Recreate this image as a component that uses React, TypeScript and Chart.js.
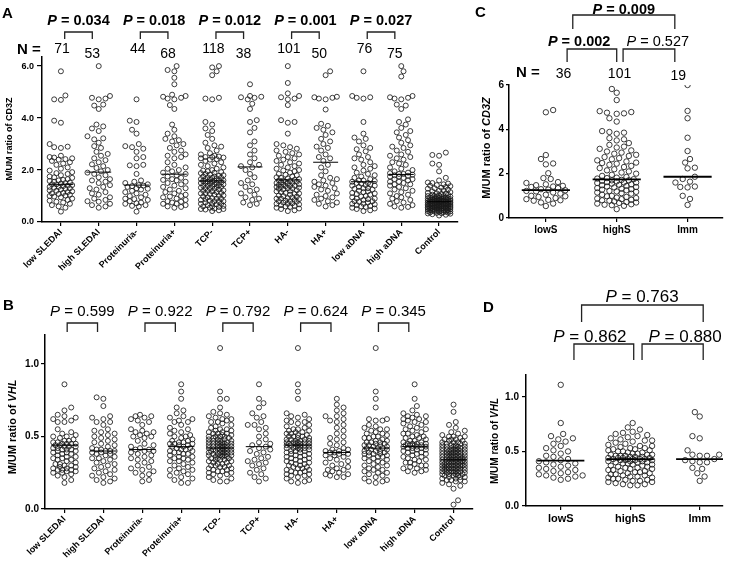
import React, { useEffect, useRef } from "react";
import { Chart, registerables } from "chart.js";
Chart.register(...registerables);

const FONT = "'Liberation Sans', Arial, Helvetica, sans-serif";

// ---------------- Panel A / B categories ----------------
const catsAB = ["low SLEDAI", "high SLEDAI", "Proteinuria-", "Proteinuria+", "TCP-", "TCP+", "HA-", "HA+", "low aDNA", "high aDNA", "Control"];
const countsA = [71, 53, 44, 68, 118, 38, 101, 50, 76, 75];
const pValsA = ["0.034", "0.018", "0.012", "0.001", "0.027"];
const pValsB = ["0.599", "0.922", "0.792", "0.624", "0.345"];
const yTicksA = [0, 2, 4, 6];
const yTicksB = [0, 0.5, 1.0];

// ---------------- Panel A values (M/UM ratio of CD3Z) ----------------
const cd3zLowSLEDAI = [5.8, 4.87, 4.72, 4.7, 3.9, 3.82, 3.0, 2.9, 2.88, 2.85, 2.55, 2.5, 2.48, 2.45, 2.42, 2.4, 2.35, 2.3, 2.25, 2.2, 2.1, 2.05, 1.98, 1.92, 1.88, 1.85, 1.8, 1.75, 1.72, 1.7, 1.65, 1.62, 1.6, 1.58, 1.55, 1.52, 1.5, 1.48, 1.45, 1.42, 1.4, 1.38, 1.35, 1.32, 1.3, 1.28, 1.25, 1.22, 1.2, 1.18, 1.15, 1.12, 1.1, 1.08, 1.05, 1.02, 1.0, 1.45, 1.35, 0.98, 0.95, 0.9, 0.85, 0.82, 0.78, 0.75, 0.7, 0.65, 0.6, 0.55, 0.4];
const cd3zHighSLEDAI = [6.0, 4.85, 4.78, 4.75, 4.72, 4.52, 4.48, 4.35, 3.75, 3.68, 3.6, 3.5, 3.3, 3.22, 3.18, 3.05, 2.92, 2.85, 2.7, 2.62, 2.55, 2.45, 2.38, 2.3, 2.22, 2.15, 2.08, 2.0, 1.95, 1.9, 1.85, 1.8, 1.72, 1.65, 1.6, 1.55, 1.5, 1.42, 1.35, 1.3, 1.25, 1.15, 1.1, 1.05, 0.95, 0.9, 0.85, 0.8, 0.78, 0.7, 0.65, 0.6, 0.55];
const cd3zProtNeg = [4.72, 3.9, 3.85, 3.55, 3.4, 3.0, 2.92, 2.88, 2.82, 2.7, 2.5, 2.45, 2.2, 2.18, 2.15, 1.85, 1.6, 1.55, 1.5, 1.45, 1.42, 1.4, 1.38, 1.35, 1.3, 1.25, 1.2, 1.15, 1.1, 1.05, 1.0, 0.95, 0.9, 0.88, 0.85, 0.8, 0.75, 0.72, 0.7, 0.65, 0.62, 0.6, 0.4, 1.28];
const cd3zProtPos = [6.0, 5.85, 5.8, 5.55, 5.3, 4.9, 4.85, 4.82, 4.78, 4.75, 4.72, 4.5, 4.35, 3.75, 3.55, 3.4, 3.3, 3.2, 3.15, 3.1, 3.0, 2.95, 2.85, 2.75, 2.7, 2.6, 2.55, 2.5, 2.45, 2.3, 2.2, 2.1, 2.05, 2.0, 1.95, 1.9, 1.85, 1.8, 1.75, 1.7, 1.65, 1.6, 1.55, 1.5, 1.45, 1.4, 1.35, 1.3, 1.25, 1.2, 1.15, 1.1, 1.05, 1.0, 0.98, 0.95, 0.9, 0.85, 0.8, 0.78, 0.75, 0.7, 0.7, 0.65, 0.6, 0.58, 0.55, 1.62];
const cd3zTcpNeg = [6.0, 5.95, 5.8, 5.65, 4.78, 4.75, 4.72, 3.85, 3.75, 3.6, 3.5, 3.35, 3.2, 3.05, 2.95, 2.9, 2.85, 2.75, 2.65, 2.6, 2.55, 2.52, 2.5, 2.5, 2.48, 2.45, 2.42, 2.4, 2.35, 2.3, 2.25, 2.2, 2.15, 2.1, 2.05, 2.0, 1.98, 1.95, 1.92, 1.9, 1.88, 1.85, 1.82, 1.8, 1.78, 1.75, 1.72, 1.7, 1.68, 1.65, 1.62, 1.6, 1.58, 1.55, 1.52, 1.5, 1.48, 1.45, 1.42, 1.4, 1.38, 1.35, 1.32, 1.3, 1.28, 1.25, 1.22, 1.2, 1.18, 1.15, 1.12, 1.1, 1.08, 1.05, 1.02, 1.0, 1.75, 1.7, 1.65, 1.6, 1.55, 1.5, 1.45, 1.4, 1.35, 1.3, 1.6, 1.5, 0.98, 0.95, 0.92, 0.9, 0.88, 0.85, 0.82, 0.8, 0.78, 0.75, 0.72, 0.7, 0.68, 0.65, 0.62, 0.6, 0.58, 0.55, 0.52, 0.5, 0.48, 0.45, 0.42, 0.9, 0.8, 0.7, 0.6, 0.5, 1.1, 1.2];
const cd3zTcpPos = [5.3, 4.85, 4.82, 4.8, 4.78, 4.72, 4.55, 4.35, 3.92, 3.85, 3.62, 3.45, 3.1, 2.95, 2.75, 2.6, 2.45, 2.3, 2.2, 2.15, 2.1, 2.0, 1.85, 1.72, 1.6, 1.5, 1.45, 1.35, 1.25, 1.2, 1.1, 1.05, 0.95, 0.9, 0.85, 0.75, 0.7, 0.65];
const cd3zHaNeg = [6.0, 5.35, 4.95, 4.85, 4.8, 4.75, 4.72, 4.5, 3.92, 3.85, 3.82, 3.4, 3.0, 2.95, 2.88, 2.82, 2.75, 2.7, 2.65, 2.6, 2.55, 2.5, 2.45, 2.4, 2.35, 2.3, 2.25, 2.2, 2.15, 2.1, 2.05, 2.0, 1.98, 1.95, 1.9, 1.85, 1.82, 1.8, 1.75, 1.72, 1.7, 1.68, 1.65, 1.62, 1.6, 1.58, 1.55, 1.52, 1.5, 1.48, 1.45, 1.42, 1.4, 1.38, 1.35, 1.32, 1.3, 1.28, 1.25, 1.22, 1.2, 1.18, 1.15, 1.12, 1.1, 1.08, 1.05, 1.02, 1.0, 1.6, 1.5, 1.4, 1.3, 1.55, 1.45, 1.35, 0.98, 0.95, 0.92, 0.9, 0.88, 0.85, 0.82, 0.8, 0.78, 0.75, 0.72, 0.7, 0.68, 0.65, 0.62, 0.6, 0.58, 0.55, 0.52, 0.5, 0.45, 0.42, 0.9, 0.8, 0.7];
const cd3zHaPos = [5.8, 5.65, 4.82, 4.8, 4.78, 4.75, 4.72, 4.33, 3.78, 3.7, 3.62, 3.55, 3.45, 3.35, 3.2, 3.1, 3.0, 2.9, 2.85, 2.75, 2.6, 2.5, 2.45, 2.35, 2.2, 2.1, 1.95, 1.8, 1.7, 1.65, 1.55, 1.5, 1.45, 1.4, 1.3, 1.25, 1.2, 1.1, 1.05, 1.0, 0.95, 0.9, 0.85, 0.8, 0.75, 0.7, 0.65, 0.6, 1.6, 1.35];
const cd3zLowADNA = [5.8, 4.85, 4.8, 4.78, 4.75, 3.85, 3.4, 3.25, 3.2, 3.1, 2.95, 2.85, 2.8, 2.72, 2.6, 2.5, 2.45, 2.4, 2.3, 2.2, 2.15, 2.1, 2.05, 1.98, 1.9, 1.85, 1.8, 1.75, 1.7, 1.65, 1.6, 1.58, 1.55, 1.5, 1.48, 1.45, 1.42, 1.4, 1.35, 1.3, 1.28, 1.25, 1.2, 1.15, 1.1, 1.05, 1.0, 1.6, 1.5, 1.4, 1.3, 0.98, 0.95, 0.9, 0.88, 0.85, 0.8, 0.78, 0.75, 0.7, 0.68, 0.65, 0.6, 0.58, 0.55, 0.5, 0.45, 0.42, 0.9, 0.8, 0.7, 0.62, 0.52, 1.08, 1.12, 1.18];
const cd3zHighADNA = [6.0, 5.8, 5.6, 4.85, 4.8, 4.78, 4.75, 4.72, 4.52, 4.48, 4.35, 3.95, 3.85, 3.75, 3.62, 3.5, 3.45, 3.35, 3.25, 3.15, 3.05, 2.95, 2.9, 2.85, 2.75, 2.7, 2.6, 2.55, 2.5, 2.45, 2.4, 2.3, 2.25, 2.2, 2.1, 2.05, 2.0, 1.95, 1.9, 1.88, 1.85, 1.82, 1.8, 1.78, 1.75, 1.7, 1.65, 1.6, 1.55, 1.5, 1.45, 1.4, 1.35, 1.3, 1.25, 1.2, 1.15, 1.1, 1.05, 1.0, 0.95, 0.9, 0.85, 0.8, 0.75, 0.7, 0.65, 0.6, 0.58, 0.55, 1.85, 1.75, 1.65, 1.55, 1.45];
const cd3zControl = [2.67, 2.58, 2.55, 2.25, 2.2, 1.95, 1.7, 1.6, 1.52, 1.5, 1.48, 1.45, 1.42, 1.4, 1.38, 1.35, 1.32, 1.3, 1.28, 1.25, 1.22, 1.2, 1.18, 1.15, 1.12, 1.1, 1.1, 1.08, 1.05, 1.05, 1.02, 1.0, 1.0, 0.98, 0.98, 0.96, 0.95, 0.94, 0.92, 0.92, 0.9, 0.9, 0.89, 0.88, 0.87, 0.86, 0.85, 0.85, 0.84, 0.83, 0.82, 0.82, 0.81, 0.8, 0.8, 0.79, 0.78, 0.78, 0.77, 0.76, 0.75, 0.75, 0.74, 0.73, 0.72, 0.72, 0.71, 0.7, 0.7, 0.69, 0.68, 0.68, 0.67, 0.66, 0.65, 0.65, 0.64, 0.63, 0.62, 0.62, 0.61, 0.6, 0.6, 0.59, 0.58, 0.58, 0.57, 0.56, 0.55, 0.55, 0.54, 0.53, 0.52, 0.52, 0.51, 0.5, 0.5, 0.49, 0.48, 0.47, 0.46, 0.45, 0.45, 0.44, 0.43, 0.42, 0.41, 0.4, 0.4, 0.39, 0.38, 0.37, 0.36, 0.35, 0.34, 0.33, 0.32, 0.3, 0.28, 0.25, 0.85, 0.8, 0.75, 0.7, 0.65, 0.6, 0.9, 0.95, 1.0, 0.55, 0.5, 0.45, 0.72, 0.68, 0.62, 0.58, 0.78, 0.82, 0.88, 0.52];
const cd3zLinesA = [1.45, 1.92, 1.42, 1.84, 1.58, 2.12, 1.62, 2.3, 1.55, 1.83, 0.78];

// ---------------- Panel B values (M/UM ratio of VHL) ----------------
const vhlLowSLEDAI = [0.86, 0.7, 0.68, 0.65, 0.64, 0.63, 0.62, 0.61, 0.6, 0.6, 0.55, 0.53, 0.52, 0.51, 0.5, 0.5, 0.49, 0.48, 0.47, 0.47, 0.46, 0.46, 0.45, 0.45, 0.45, 0.44, 0.44, 0.43, 0.43, 0.42, 0.42, 0.41, 0.41, 0.4, 0.4, 0.39, 0.39, 0.38, 0.37, 0.36, 0.35, 0.35, 0.34, 0.33, 0.32, 0.31, 0.3, 0.3, 0.29, 0.29, 0.28, 0.28, 0.27, 0.27, 0.26, 0.26, 0.25, 0.25, 0.24, 0.23, 0.22, 0.2, 0.18, 0.45, 0.43, 0.41, 0.38, 0.36, 0.34, 0.31, 0.27];
const vhlHighSLEDAI = [0.77, 0.76, 0.71, 0.64, 0.63, 0.62, 0.6, 0.6, 0.58, 0.55, 0.54, 0.53, 0.52, 0.51, 0.5, 0.49, 0.48, 0.47, 0.46, 0.45, 0.44, 0.43, 0.42, 0.41, 0.41, 0.4, 0.4, 0.4, 0.39, 0.39, 0.38, 0.38, 0.37, 0.36, 0.35, 0.34, 0.33, 0.32, 0.31, 0.3, 0.29, 0.28, 0.27, 0.26, 0.25, 0.24, 0.23, 0.22, 0.21, 0.2, 0.19, 0.18, 0.35];
const vhlProtNeg = [0.65, 0.64, 0.64, 0.63, 0.62, 0.61, 0.6, 0.58, 0.55, 0.54, 0.53, 0.53, 0.52, 0.51, 0.5, 0.5, 0.49, 0.47, 0.45, 0.44, 0.43, 0.42, 0.41, 0.41, 0.4, 0.4, 0.39, 0.38, 0.37, 0.36, 0.35, 0.34, 0.33, 0.32, 0.3, 0.29, 0.28, 0.27, 0.26, 0.25, 0.24, 0.23, 0.2, 0.19];
const vhlProtPos = [0.86, 0.81, 0.76, 0.7, 0.68, 0.66, 0.64, 0.63, 0.62, 0.61, 0.6, 0.6, 0.58, 0.56, 0.55, 0.54, 0.53, 0.52, 0.51, 0.5, 0.5, 0.49, 0.48, 0.47, 0.47, 0.46, 0.46, 0.45, 0.45, 0.44, 0.44, 0.43, 0.43, 0.42, 0.42, 0.41, 0.41, 0.4, 0.4, 0.39, 0.39, 0.38, 0.38, 0.37, 0.36, 0.36, 0.35, 0.34, 0.33, 0.33, 0.32, 0.31, 0.3, 0.29, 0.28, 0.27, 0.27, 0.26, 0.25, 0.24, 0.23, 0.22, 0.21, 0.2, 0.18, 0.18, 0.35, 0.45];
const vhlTcpNeg = [1.11, 0.81, 0.76, 0.76, 0.7, 0.67, 0.66, 0.65, 0.64, 0.63, 0.62, 0.62, 0.61, 0.6, 0.6, 0.59, 0.58, 0.57, 0.56, 0.55, 0.55, 0.54, 0.54, 0.53, 0.53, 0.52, 0.52, 0.51, 0.51, 0.5, 0.5, 0.5, 0.49, 0.49, 0.48, 0.48, 0.47, 0.47, 0.47, 0.46, 0.46, 0.46, 0.45, 0.45, 0.45, 0.44, 0.44, 0.44, 0.43, 0.43, 0.43, 0.42, 0.42, 0.42, 0.41, 0.41, 0.41, 0.4, 0.4, 0.4, 0.39, 0.39, 0.39, 0.38, 0.38, 0.38, 0.37, 0.37, 0.37, 0.36, 0.36, 0.35, 0.35, 0.35, 0.34, 0.34, 0.33, 0.33, 0.32, 0.32, 0.31, 0.31, 0.3, 0.3, 0.3, 0.29, 0.29, 0.28, 0.28, 0.27, 0.27, 0.26, 0.26, 0.25, 0.25, 0.24, 0.24, 0.23, 0.22, 0.21, 0.2, 0.19, 0.19, 0.44, 0.42, 0.4, 0.38, 0.36, 0.34, 0.46, 0.48, 0.5, 0.52, 0.41, 0.43, 0.39, 0.37, 0.45];
const vhlTcpPos = [0.86, 0.76, 0.73, 0.7, 0.66, 0.64, 0.63, 0.6, 0.58, 0.58, 0.56, 0.55, 0.52, 0.5, 0.48, 0.46, 0.45, 0.44, 0.43, 0.42, 0.41, 0.4, 0.39, 0.38, 0.36, 0.35, 0.34, 0.33, 0.32, 0.31, 0.3, 0.28, 0.27, 0.25, 0.24, 0.22, 0.21, 0.19];
const vhlHaNeg = [1.11, 0.86, 0.81, 0.76, 0.66, 0.65, 0.64, 0.63, 0.62, 0.61, 0.6, 0.6, 0.59, 0.58, 0.57, 0.56, 0.55, 0.55, 0.54, 0.54, 0.53, 0.53, 0.52, 0.52, 0.51, 0.51, 0.5, 0.5, 0.5, 0.49, 0.49, 0.48, 0.48, 0.47, 0.47, 0.47, 0.46, 0.46, 0.46, 0.45, 0.45, 0.45, 0.44, 0.44, 0.44, 0.43, 0.43, 0.43, 0.42, 0.42, 0.42, 0.41, 0.41, 0.4, 0.4, 0.39, 0.39, 0.38, 0.38, 0.37, 0.37, 0.36, 0.36, 0.35, 0.35, 0.34, 0.34, 0.33, 0.33, 0.32, 0.32, 0.31, 0.31, 0.3, 0.3, 0.29, 0.29, 0.28, 0.28, 0.27, 0.27, 0.26, 0.26, 0.25, 0.25, 0.24, 0.24, 0.23, 0.23, 0.22, 0.21, 0.2, 0.19, 0.19, 0.18, 0.44, 0.46, 0.42, 0.4, 0.48, 0.45];
const vhlHaPos = [0.76, 0.72, 0.7, 0.68, 0.66, 0.64, 0.64, 0.62, 0.61, 0.6, 0.58, 0.56, 0.54, 0.52, 0.5, 0.49, 0.48, 0.46, 0.45, 0.44, 0.42, 0.41, 0.4, 0.4, 0.39, 0.39, 0.39, 0.38, 0.38, 0.37, 0.37, 0.36, 0.35, 0.34, 0.33, 0.32, 0.31, 0.3, 0.29, 0.28, 0.27, 0.27, 0.26, 0.25, 0.24, 0.24, 0.23, 0.22, 0.22, 0.41];
const vhlLowADNA = [1.11, 0.81, 0.76, 0.7, 0.62, 0.62, 0.61, 0.61, 0.58, 0.57, 0.56, 0.55, 0.55, 0.54, 0.53, 0.52, 0.52, 0.51, 0.5, 0.5, 0.49, 0.49, 0.48, 0.47, 0.47, 0.46, 0.46, 0.45, 0.45, 0.44, 0.44, 0.43, 0.43, 0.42, 0.42, 0.42, 0.41, 0.41, 0.4, 0.4, 0.39, 0.39, 0.38, 0.38, 0.37, 0.37, 0.36, 0.36, 0.35, 0.35, 0.34, 0.33, 0.33, 0.32, 0.31, 0.3, 0.3, 0.29, 0.28, 0.27, 0.27, 0.26, 0.25, 0.25, 0.24, 0.23, 0.22, 0.21, 0.2, 0.19, 0.19, 0.18, 0.44, 0.4, 0.38, 0.46];
const vhlHighADNA = [0.86, 0.76, 0.71, 0.68, 0.66, 0.65, 0.64, 0.64, 0.63, 0.62, 0.62, 0.61, 0.6, 0.6, 0.59, 0.58, 0.57, 0.56, 0.55, 0.55, 0.54, 0.53, 0.52, 0.52, 0.51, 0.5, 0.5, 0.49, 0.49, 0.48, 0.47, 0.47, 0.46, 0.46, 0.45, 0.45, 0.45, 0.44, 0.44, 0.44, 0.43, 0.43, 0.43, 0.42, 0.42, 0.42, 0.41, 0.41, 0.4, 0.4, 0.39, 0.39, 0.38, 0.38, 0.37, 0.36, 0.36, 0.35, 0.34, 0.34, 0.33, 0.32, 0.32, 0.31, 0.3, 0.3, 0.29, 0.28, 0.28, 0.27, 0.26, 0.26, 0.25, 0.44, 0.45];
const vhlControl = [0.72, 0.67, 0.6, 0.58, 0.56, 0.54, 0.53, 0.52, 0.51, 0.5, 0.5, 0.49, 0.48, 0.48, 0.47, 0.47, 0.46, 0.46, 0.45, 0.45, 0.44, 0.44, 0.44, 0.43, 0.43, 0.43, 0.42, 0.42, 0.42, 0.41, 0.41, 0.41, 0.4, 0.4, 0.4, 0.39, 0.39, 0.39, 0.38, 0.38, 0.38, 0.37, 0.37, 0.37, 0.36, 0.36, 0.36, 0.35, 0.35, 0.35, 0.34, 0.34, 0.34, 0.33, 0.33, 0.33, 0.32, 0.32, 0.32, 0.31, 0.31, 0.31, 0.3, 0.3, 0.3, 0.29, 0.29, 0.29, 0.28, 0.28, 0.28, 0.27, 0.27, 0.27, 0.26, 0.26, 0.26, 0.25, 0.25, 0.25, 0.24, 0.24, 0.24, 0.23, 0.23, 0.22, 0.22, 0.21, 0.21, 0.2, 0.2, 0.19, 0.19, 0.18, 0.17, 0.16, 0.14, 0.06, 0.03, 0.35, 0.33, 0.31, 0.29, 0.27, 0.25, 0.23, 0.37, 0.39, 0.41, 0.43, 0.34, 0.32, 0.3, 0.28, 0.26, 0.36, 0.38, 0.4, 0.42, 0.45, 0.35, 0.33, 0.31, 0.29, 0.27, 0.3, 0.32, 0.34, 0.36, 0.28, 0.26, 0.24, 0.22, 0.38, 0.4, 0.46, 0.48, 0.5, 0.2, 0.3];
const vhlLinesB = [0.44, 0.4, 0.41, 0.43, 0.42, 0.43, 0.44, 0.39, 0.42, 0.43, 0.34];

// ---------------- Panels C / D ----------------
const catsCD = ["lowS", "highS", "Imm"];
const countsC = [36, 101, 19];
const yTicksC = [0, 2, 4, 6];
const yTicksD = [0, 0.5, 1.0];
const pValsC = ["0.009", "0.002", "0.527"]; // lowS–Imm, lowS–highS, highS–Imm
const pValsD = ["0.763", "0.862", "0.880"];

const cd3zLowS = [4.87, 4.77, 2.84, 2.66, 2.46, 2.42, 2.02, 1.8, 1.76, 1.62, 1.58, 1.52, 1.48, 1.45, 1.42, 1.4, 1.35, 1.3, 1.28, 1.25, 1.22, 1.2, 1.15, 1.1, 1.05, 1.0, 0.98, 0.95, 0.9, 0.85, 0.82, 0.8, 0.78, 0.7, 0.65, 0.54];
const cd3zHighS = [5.82, 5.65, 5.32, 4.82, 4.78, 4.75, 4.72, 4.7, 4.5, 4.35, 3.92, 3.88, 3.85, 3.8, 3.6, 3.55, 3.5, 3.38, 3.3, 3.22, 3.18, 3.12, 3.05, 3.0, 2.95, 2.9, 2.85, 2.8, 2.75, 2.7, 2.65, 2.6, 2.55, 2.5, 2.48, 2.45, 2.4, 2.35, 2.3, 2.25, 2.2, 2.15, 2.1, 2.05, 2.0, 1.95, 1.9, 1.85, 1.82, 1.8, 1.78, 1.75, 1.72, 1.7, 1.68, 1.65, 1.62, 1.6, 1.58, 1.55, 1.52, 1.5, 1.48, 1.45, 1.42, 1.4, 1.38, 1.35, 1.32, 1.3, 1.28, 1.25, 1.22, 1.2, 1.18, 1.15, 1.12, 1.1, 1.05, 1.0, 0.98, 0.95, 0.92, 0.9, 0.88, 0.85, 0.82, 0.8, 0.78, 0.75, 0.72, 0.7, 0.68, 0.65, 0.62, 0.6, 0.58, 0.55, 0.4, 1.7, 1.6];
const cd3zImm = [6.0, 4.83, 4.5, 3.62, 3.02, 2.66, 2.5, 2.27, 2.24, 1.86, 1.76, 1.64, 1.6, 1.42, 1.4, 1.38, 1.0, 0.86, 0.59];
const cd3zLinesC = [1.26, 1.74, 1.86];

const vhlLowS = [1.11, 0.76, 0.66, 0.64, 0.62, 0.61, 0.59, 0.57, 0.55, 0.53, 0.51, 0.5, 0.48, 0.46, 0.45, 0.43, 0.42, 0.41, 0.4, 0.39, 0.38, 0.37, 0.36, 0.35, 0.34, 0.33, 0.32, 0.31, 0.3, 0.29, 0.28, 0.28, 0.27, 0.26, 0.25, 0.24];
const vhlHighS = [0.76, 0.72, 0.7, 0.68, 0.67, 0.66, 0.65, 0.64, 0.63, 0.62, 0.61, 0.6, 0.6, 0.59, 0.58, 0.57, 0.56, 0.55, 0.55, 0.54, 0.53, 0.53, 0.52, 0.52, 0.51, 0.51, 0.5, 0.5, 0.49, 0.49, 0.48, 0.48, 0.47, 0.47, 0.47, 0.46, 0.46, 0.46, 0.45, 0.45, 0.45, 0.44, 0.44, 0.44, 0.43, 0.43, 0.43, 0.43, 0.42, 0.42, 0.42, 0.42, 0.41, 0.41, 0.41, 0.4, 0.4, 0.4, 0.39, 0.39, 0.38, 0.38, 0.37, 0.37, 0.36, 0.36, 0.35, 0.35, 0.34, 0.34, 0.33, 0.33, 0.32, 0.32, 0.31, 0.31, 0.3, 0.3, 0.29, 0.29, 0.28, 0.28, 0.27, 0.27, 0.26, 0.26, 0.25, 0.25, 0.24, 0.24, 0.23, 0.23, 0.22, 0.22, 0.21, 0.2, 0.2, 0.19, 0.19, 0.44, 0.43];
const vhlImm = [0.86, 0.82, 0.64, 0.62, 0.51, 0.47, 0.47, 0.46, 0.46, 0.43, 0.42, 0.41, 0.4, 0.4, 0.35, 0.34, 0.3, 0.27, 0.23];
const vhlLinesD = [0.416, 0.43, 0.43];

// ---------------- helpers ----------------
function swarmOffsets(vals: number[], pxX: number, pxY: number, r: number, half: number): number[] {
  const order = vals.map((_, i) => i).sort((a, b) => vals[a] - vals[b]);
  const placed: { x: number; y: number }[] = [];
  const out = new Array(vals.length).fill(0);
  const minD = 2 * r + 0.6;
  const step = r * 0.9;
  order.forEach((idx, n) => {
    const y = vals[idx] * pxY;
    const sgn = n % 2 ? 1 : -1;
    const cands = [0];
    for (let k = 1; k * step <= half; k++) cands.push(sgn * k * step, -sgn * k * step);
    let best = 0;
    let bestD = -1;
    for (const cx of cands) {
      let d = Infinity;
      for (const p of placed) {
        const dy = Math.abs(p.y - y);
        if (dy < minD) {
          const dd = Math.hypot(p.x - cx, dy);
          if (dd < d) d = dd;
        }
      }
      if (d >= minD) { best = cx; bestD = d; break; }
      if (d > bestD + 0.01) { bestD = d; best = cx; }
    }
    placed.push({ x: best, y });
    out[idx] = best / pxX;
  });
  return out;
}

function txt(ctx: CanvasRenderingContext2D, s: string, x: number, y: number, size: number, weight = "normal", align: CanvasTextAlign = "center") {
  ctx.save();
  ctx.font = `${weight} ${size}px ${FONT}`;
  ctx.fillStyle = "#000";
  ctx.textAlign = align;
  ctx.textBaseline = "middle";
  ctx.fillText(s, x, y);
  ctx.restore();
}

function pText(ctx: CanvasRenderingContext2D, val: string, cx: number, cy: number, size: number, bold: boolean) {
  ctx.save();
  const w = bold ? "bold " : "";
  const f1 = `italic ${w}${size}px ${FONT}`;
  const f2 = `${w}${size}px ${FONT}`;
  const rest = " = " + val;
  ctx.font = f1;
  const w1 = ctx.measureText("P").width;
  ctx.font = f2;
  const w2 = ctx.measureText(rest).width;
  const x = cx - (w1 + w2) / 2;
  ctx.fillStyle = "#000";
  ctx.textAlign = "left";
  ctx.textBaseline = "middle";
  ctx.font = f1;
  ctx.fillText("P", x, cy);
  ctx.font = f2;
  ctx.fillText(rest, x + w1, cy);
  ctx.restore();
}

function bracket(ctx: CanvasRenderingContext2D, x1: number, x2: number, yTop: number, yBot: number) {
  ctx.save();
  ctx.strokeStyle = "#222";
  ctx.lineWidth = 1.3;
  ctx.beginPath();
  ctx.moveTo(x1, yBot);
  ctx.lineTo(x1, yTop);
  ctx.lineTo(x2, yTop);
  ctx.lineTo(x2, yBot);
  ctx.stroke();
  ctx.restore();
}

function yTitle(ctx: CanvasRenderingContext2D, plain: string, gene: string, cx: number, cy: number, size: number, italic: boolean) {
  ctx.save();
  ctx.translate(cx, cy);
  ctx.rotate(-Math.PI / 2);
  const f1 = `bold ${size}px ${FONT}`;
  const f2 = `${italic ? "italic " : ""}bold ${size}px ${FONT}`;
  ctx.font = f1;
  const w1 = ctx.measureText(plain).width;
  ctx.font = f2;
  const w2 = ctx.measureText(gene).width;
  const x = -(w1 + w2) / 2;
  ctx.fillStyle = "#000";
  ctx.textAlign = "left";
  ctx.textBaseline = "middle";
  ctx.font = f1;
  ctx.fillText(plain, x, 0);
  ctx.font = f2;
  ctx.fillText(gene, x + w1, 0);
  ctx.restore();
}

function letter(ctx: CanvasRenderingContext2D, s: string, x: number, baseline: number) {
  ctx.save();
  ctx.font = `bold 15px ${FONT}`;
  ctx.fillStyle = "#000";
  ctx.textAlign = "left";
  ctx.textBaseline = "alphabetic";
  ctx.fillText(s, x, baseline);
  ctx.restore();
}

type PanelCfg = {
  left: number; top: number; width: number; height: number;
  area: [number, number, number, number];
  xRange: [number, number]; yRange: [number, number];
  yTicks: number[]; yDec: number;
  cats: string[]; groups: number[][]; lines: number[]; lineHalf: number; lineWidth: number;
  radius: number; spread: number;
  xFont: number; yFont: number; rotate: number;
  yTickLen: number; yTickPad: number; xTickLen: number; xTickPad: number;
  draw: (c: any) => void;
};

const panelA: PanelCfg = {
  left: 0, top: 0, width: 470, height: 280,
  area: [42, 57, 458, 222], xRange: [-0.5, 10.5], yRange: [0, 6.35],
  yTicks: yTicksA, yDec: 1,
  cats: catsAB,
  groups: [cd3zLowSLEDAI, cd3zHighSLEDAI, cd3zProtNeg, cd3zProtPos, cd3zTcpNeg, cd3zTcpPos, cd3zHaNeg, cd3zHaPos, cd3zLowADNA, cd3zHighADNA, cd3zControl],
  lines: cd3zLinesA, lineHalf: 0.33, lineWidth: 1,
  radius: 2.5, spread: 12.5,
  xFont: 9, yFont: 9, rotate: 45, yTickLen: 5, yTickPad: 3, xTickLen: 4, xTickPad: 1,
  draw: (c) => {
    const ctx = c.ctx as CanvasRenderingContext2D;
    const X = (v: number) => c.scales.x.getPixelForValue(v);
    letter(ctx, "A", 2, 18);
    yTitle(ctx, "M/UM ratio of ", "CD3Z", 10, 139, 9, false);
    txt(ctx, "N =", 29, 50, 15, "bold");
    countsA.forEach((n, i) => txt(ctx, String(n), X(i + (i % 2 ? -0.17 : 0.03)), i % 2 ? 54 : 49, 14));
    pValsA.forEach((p, k) => {
      const i = 2 * k;
      const x1 = X(i + 0.1);
      const x2 = X(i + 0.83);
      bracket(ctx, x1, x2, 32, 39);
      pText(ctx, p, (x1 + x2) / 2, 21, 14.5, true);
    });
  },
};

const panelB: PanelCfg = {
  left: 0, top: 280, width: 480, height: 286,
  area: [45, 55, 473, 229], xRange: [-0.5, 10.5], yRange: [0, 1.2],
  yTicks: yTicksB, yDec: 1,
  cats: catsAB,
  groups: [vhlLowSLEDAI, vhlHighSLEDAI, vhlProtNeg, vhlProtPos, vhlTcpNeg, vhlTcpPos, vhlHaNeg, vhlHaPos, vhlLowADNA, vhlHighADNA, vhlControl],
  lines: vhlLinesB, lineHalf: 0.34, lineWidth: 1,
  radius: 2.5, spread: 13,
  xFont: 9, yFont: 10, rotate: 45, yTickLen: 4, yTickPad: 2, xTickLen: 4, xTickPad: 1,
  draw: (c) => {
    const ctx = c.ctx as CanvasRenderingContext2D;
    const X = (v: number) => c.scales.x.getPixelForValue(v);
    letter(ctx, "B", 3, 30);
    yTitle(ctx, "M/UM ratio of ", "VHL", 13, 147, 11, true);
    pValsB.forEach((p, k) => {
      const i = 2 * k;
      const x1 = X(i + 0.07);
      const x2 = X(i + 0.85);
      bracket(ctx, x1, x2, 43, 52);
      pText(ctx, p, (x1 + x2) / 2, 32, 15, false);
    });
  },
};

const panelC: PanelCfg = {
  left: 470, top: 0, width: 270, height: 280,
  area: [39, 85, 253, 218], xRange: [-0.52, 2.5], yRange: [0, 6],
  yTicks: yTicksC, yDec: 0,
  cats: catsCD,
  groups: [cd3zLowS, cd3zHighS, cd3zImm],
  lines: cd3zLinesC, lineHalf: 0.34, lineWidth: 1.8,
  radius: 2.7, spread: 21,
  xFont: 10, yFont: 10, rotate: 0, yTickLen: 3, yTickPad: 2, xTickLen: 4, xTickPad: 2,
  draw: (c) => {
    const ctx = c.ctx as CanvasRenderingContext2D;
    const X = (v: number) => c.scales.x.getPixelForValue(v);
    letter(ctx, "C", 5, 17);
    yTitle(ctx, "M/UM ratio of ", "CD3Z", 17, 148, 11, true);
    txt(ctx, "N =", 58, 73, 15, "bold");
    const nx = [0.25, 1.04, 1.87];
    const ny = [74, 74, 76];
    countsC.forEach((n, i) => txt(ctx, String(n), X(nx[i]), ny[i], 14));
    bracket(ctx, X(0.38), X(1.82), 15, 29);
    bracket(ctx, X(0.3), X(1.0), 49, 62);
    bracket(ctx, X(1.09), X(1.82), 49, 62);
    pText(ctx, pValsC[0], (X(0.38) + X(1.82)) / 2, 9.5, 14.5, true);
    pText(ctx, pValsC[1], X(0.47), 42, 14.5, true);
    pText(ctx, pValsC[2], X(1.58), 42, 14.5, false);
  },
};

const panelD: PanelCfg = {
  left: 480, top: 280, width: 260, height: 286,
  area: [46, 95, 243, 226], xRange: [-0.5, 2.335], yRange: [0, 1.2],
  yTicks: yTicksD, yDec: 1,
  cats: catsCD,
  groups: [vhlLowS, vhlHighS, vhlImm],
  lines: vhlLinesD, lineHalf: 0.34, lineWidth: 1.8,
  radius: 2.7, spread: 22,
  xFont: 11, yFont: 10, rotate: 0, yTickLen: 4, yTickPad: 3, xTickLen: 4, xTickPad: 2,
  draw: (c) => {
    const ctx = c.ctx as CanvasRenderingContext2D;
    const X = (v: number) => c.scales.x.getPixelForValue(v);
    letter(ctx, "D", 3, 32);
    yTitle(ctx, "M/UM ratio of ", "VHL", 15, 161, 10, true);
    bracket(ctx, X(0.3), X(2.05), 25, 42);
    bracket(ctx, X(0.19), X(1.05), 64, 80);
    bracket(ctx, X(1.17), X(2.05), 64, 80);
    pText(ctx, pValsD[0], X(1.17), 17, 17, false);
    pText(ctx, pValsD[1], X(0.42), 57, 17, false);
    pText(ctx, pValsD[2], X(1.79), 57, 17, false);
  },
};

function PanelChart({ cfg }: { cfg: PanelCfg }) {
  const ref = useRef<HTMLCanvasElement>(null);
  useEffect(() => {
    const canvas = ref.current;
    if (!canvas) return;
    const [aL, aT, aR, aB] = cfg.area;
    const pxX = (aR - aL) / (cfg.xRange[1] - cfg.xRange[0]);
    const pxY = (aB - aT) / (cfg.yRange[1] - cfg.yRange[0]);
    const datasets: any[] = [];
    cfg.lines.forEach((m, i) => {
      datasets.push({
        data: [{ x: i - cfg.lineHalf, y: m }, { x: i + cfg.lineHalf, y: m }],
        showLine: true, pointRadius: 0, borderColor: "#000", borderWidth: cfg.lineWidth, order: 0,
      });
    });
    cfg.groups.forEach((vals, i) => {
      const offs = swarmOffsets(vals, pxX, pxY, cfg.radius, cfg.spread);
      datasets.push({
        data: vals.map((v, k) => ({ x: i + offs[k], y: v })),
        showLine: false,
        pointRadius: cfg.radius,
        pointBorderWidth: 0.85,
        pointBackgroundColor: "rgba(0,0,0,0)",
        pointBorderColor: "#1a1a1a",
        order: 1,
      });
    });
    const tickFont = (size: number) => ({ family: FONT, size, weight: "bold" as const });
    const chart = new Chart(canvas, {
      type: "scatter",
      data: { datasets },
      options: {
        responsive: false,
        animation: false,
        events: [],
        layout: { padding: { left: 0, top: aT, right: cfg.width - aR, bottom: 0 } },
        plugins: { legend: { display: false }, tooltip: { enabled: false } },
        scales: {
          x: {
            type: "linear",
            min: cfg.xRange[0],
            max: cfg.xRange[1],
            afterFit: (s: any) => { s.height = cfg.height - aB; },
            afterBuildTicks: (s: any) => { s.ticks = cfg.cats.map((_, i) => ({ value: i })); },
            ticks: {
              autoSkip: false,
              maxRotation: cfg.rotate,
              minRotation: cfg.rotate,
              font: tickFont(cfg.xFont),
              color: "#000",
              padding: cfg.xTickPad,
              callback: (v: any) => cfg.cats[Math.round(Number(v))] ?? "",
            },
            grid: { display: true, drawOnChartArea: false, drawTicks: true, tickLength: cfg.xTickLen, color: "#000", lineWidth: 1.2 },
            border: { display: true, color: "#000", width: 1.5 },
          },
          y: {
            type: "linear",
            min: cfg.yRange[0],
            max: cfg.yRange[1],
            afterFit: (s: any) => { s.width = aL; },
            afterBuildTicks: (s: any) => { s.ticks = cfg.yTicks.map((v) => ({ value: v })); },
            ticks: {
              font: tickFont(cfg.yFont),
              color: "#000",
              padding: cfg.yTickPad,
              callback: (v: any) => Number(v).toFixed(cfg.yDec),
            },
            grid: { display: true, drawOnChartArea: false, drawTicks: true, tickLength: cfg.yTickLen, color: "#000", lineWidth: 1.2 },
            border: { display: true, color: "#000", width: 1.5 },
          },
        },
      } as any,
      plugins: [{ id: "annot" + cfg.left + "_" + cfg.top, afterDraw: (c: any) => cfg.draw(c) }],
    });
    return () => chart.destroy();
  }, [cfg]);
  return (
    <canvas
      ref={ref}
      width={cfg.width}
      height={cfg.height}
      style={{ position: "absolute", left: cfg.left, top: cfg.top, width: cfg.width, height: cfg.height }}
    />
  );
}

export default function App() {
  return (
    <div style={{ position: "absolute", left: 0, top: 0, width: 740, height: 566, background: "#fff", overflow: "hidden" }}>
      <PanelChart cfg={panelA} />
      <PanelChart cfg={panelB} />
      <PanelChart cfg={panelC} />
      <PanelChart cfg={panelD} />
    </div>
  );
}
